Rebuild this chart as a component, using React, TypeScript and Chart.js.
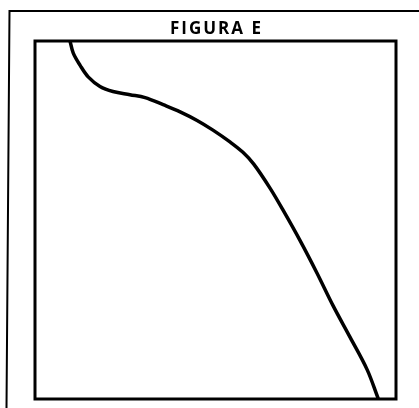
import React, { useEffect, useRef } from "react";
import { Chart, registerables } from "chart.js";

Chart.register(...registerables);

// Curve samples (x: 0–100 across the box, y: 0–100 bottom to top)
const xValues = [9.7, 10.6, 12.5, 14.8, 18.0, 21.6, 26.3, 30.5, 35.5, 40.2, 44.9, 49.3, 54.0, 57.6, 60.6, 65.1, 68.8, 73.4, 78.1, 82.6, 87.3, 92.0, 95.0];
const yValues = [100, 96.6, 93.2, 89.9, 87.3, 85.9, 85.0, 84.2, 82.2, 80.2, 77.8, 75.1, 71.8, 68.9, 65.6, 58.9, 52.6, 44.3, 35.2, 26.0, 17.2, 8.2, 0.3];

const titleText = "FIGURA E";

const framePlugin = {
  id: "figureFrame",
  afterDatasetsDraw(chart: any) {
    const { ctx, chartArea } = chart;
    ctx.save();
    // plot box
    ctx.strokeStyle = "#000";
    ctx.lineWidth = 3;
    ctx.strokeRect(chartArea.left, chartArea.top, chartArea.right - chartArea.left, chartArea.bottom - chartArea.top);
    // outer frame (top and left edges)
    ctx.lineWidth = 2;
    ctx.beginPath();
    ctx.moveTo(419, 11);
    ctx.lineTo(9.5, 11);
    ctx.lineTo(6.5, 408);
    ctx.stroke();
    // heading
    ctx.fillStyle = "#000";
    ctx.font = "bold 17px 'Open Sans', sans-serif";
    (ctx as any).letterSpacing = "2px";
    ctx.textAlign = "center";
    ctx.textBaseline = "alphabetic";
    ctx.fillText(titleText, (chartArea.left + chartArea.right) / 2 + 1, 34);
    ctx.restore();
  },
};

export default function App() {
  const canvasRef = useRef<HTMLCanvasElement | null>(null);

  useEffect(() => {
    const canvas = canvasRef.current;
    if (!canvas) return;
    const chart = new Chart(canvas, {
      type: "scatter",
      data: {
        datasets: [
          {
            data: xValues.map((x, i) => ({ x, y: yValues[i] })),
            showLine: true,
            borderColor: "#000",
            borderWidth: 3.5,
            borderCapStyle: "round",
            borderJoinStyle: "round",
            pointRadius: 0,
            tension: 0.35,
          },
        ],
      },
      options: {
        responsive: false,
        animation: false,
        devicePixelRatio: 1,
        layout: { padding: { left: 35, right: 23, top: 41, bottom: 9 } },
        plugins: { legend: { display: false }, tooltip: { enabled: false }, title: { display: false } },
        scales: {
          x: { type: "linear", min: 0, max: 100, display: false },
          y: { type: "linear", min: 0, max: 100, display: false },
        },
      },
      plugins: [framePlugin],
    });
    return () => chart.destroy();
  }, []);

  return (
    <div style={{ position: "fixed", left: 0, top: 0, width: 419, height: 408, background: "#fff" }}>
      <canvas ref={canvasRef} width={419} height={408} />
    </div>
  );
}
